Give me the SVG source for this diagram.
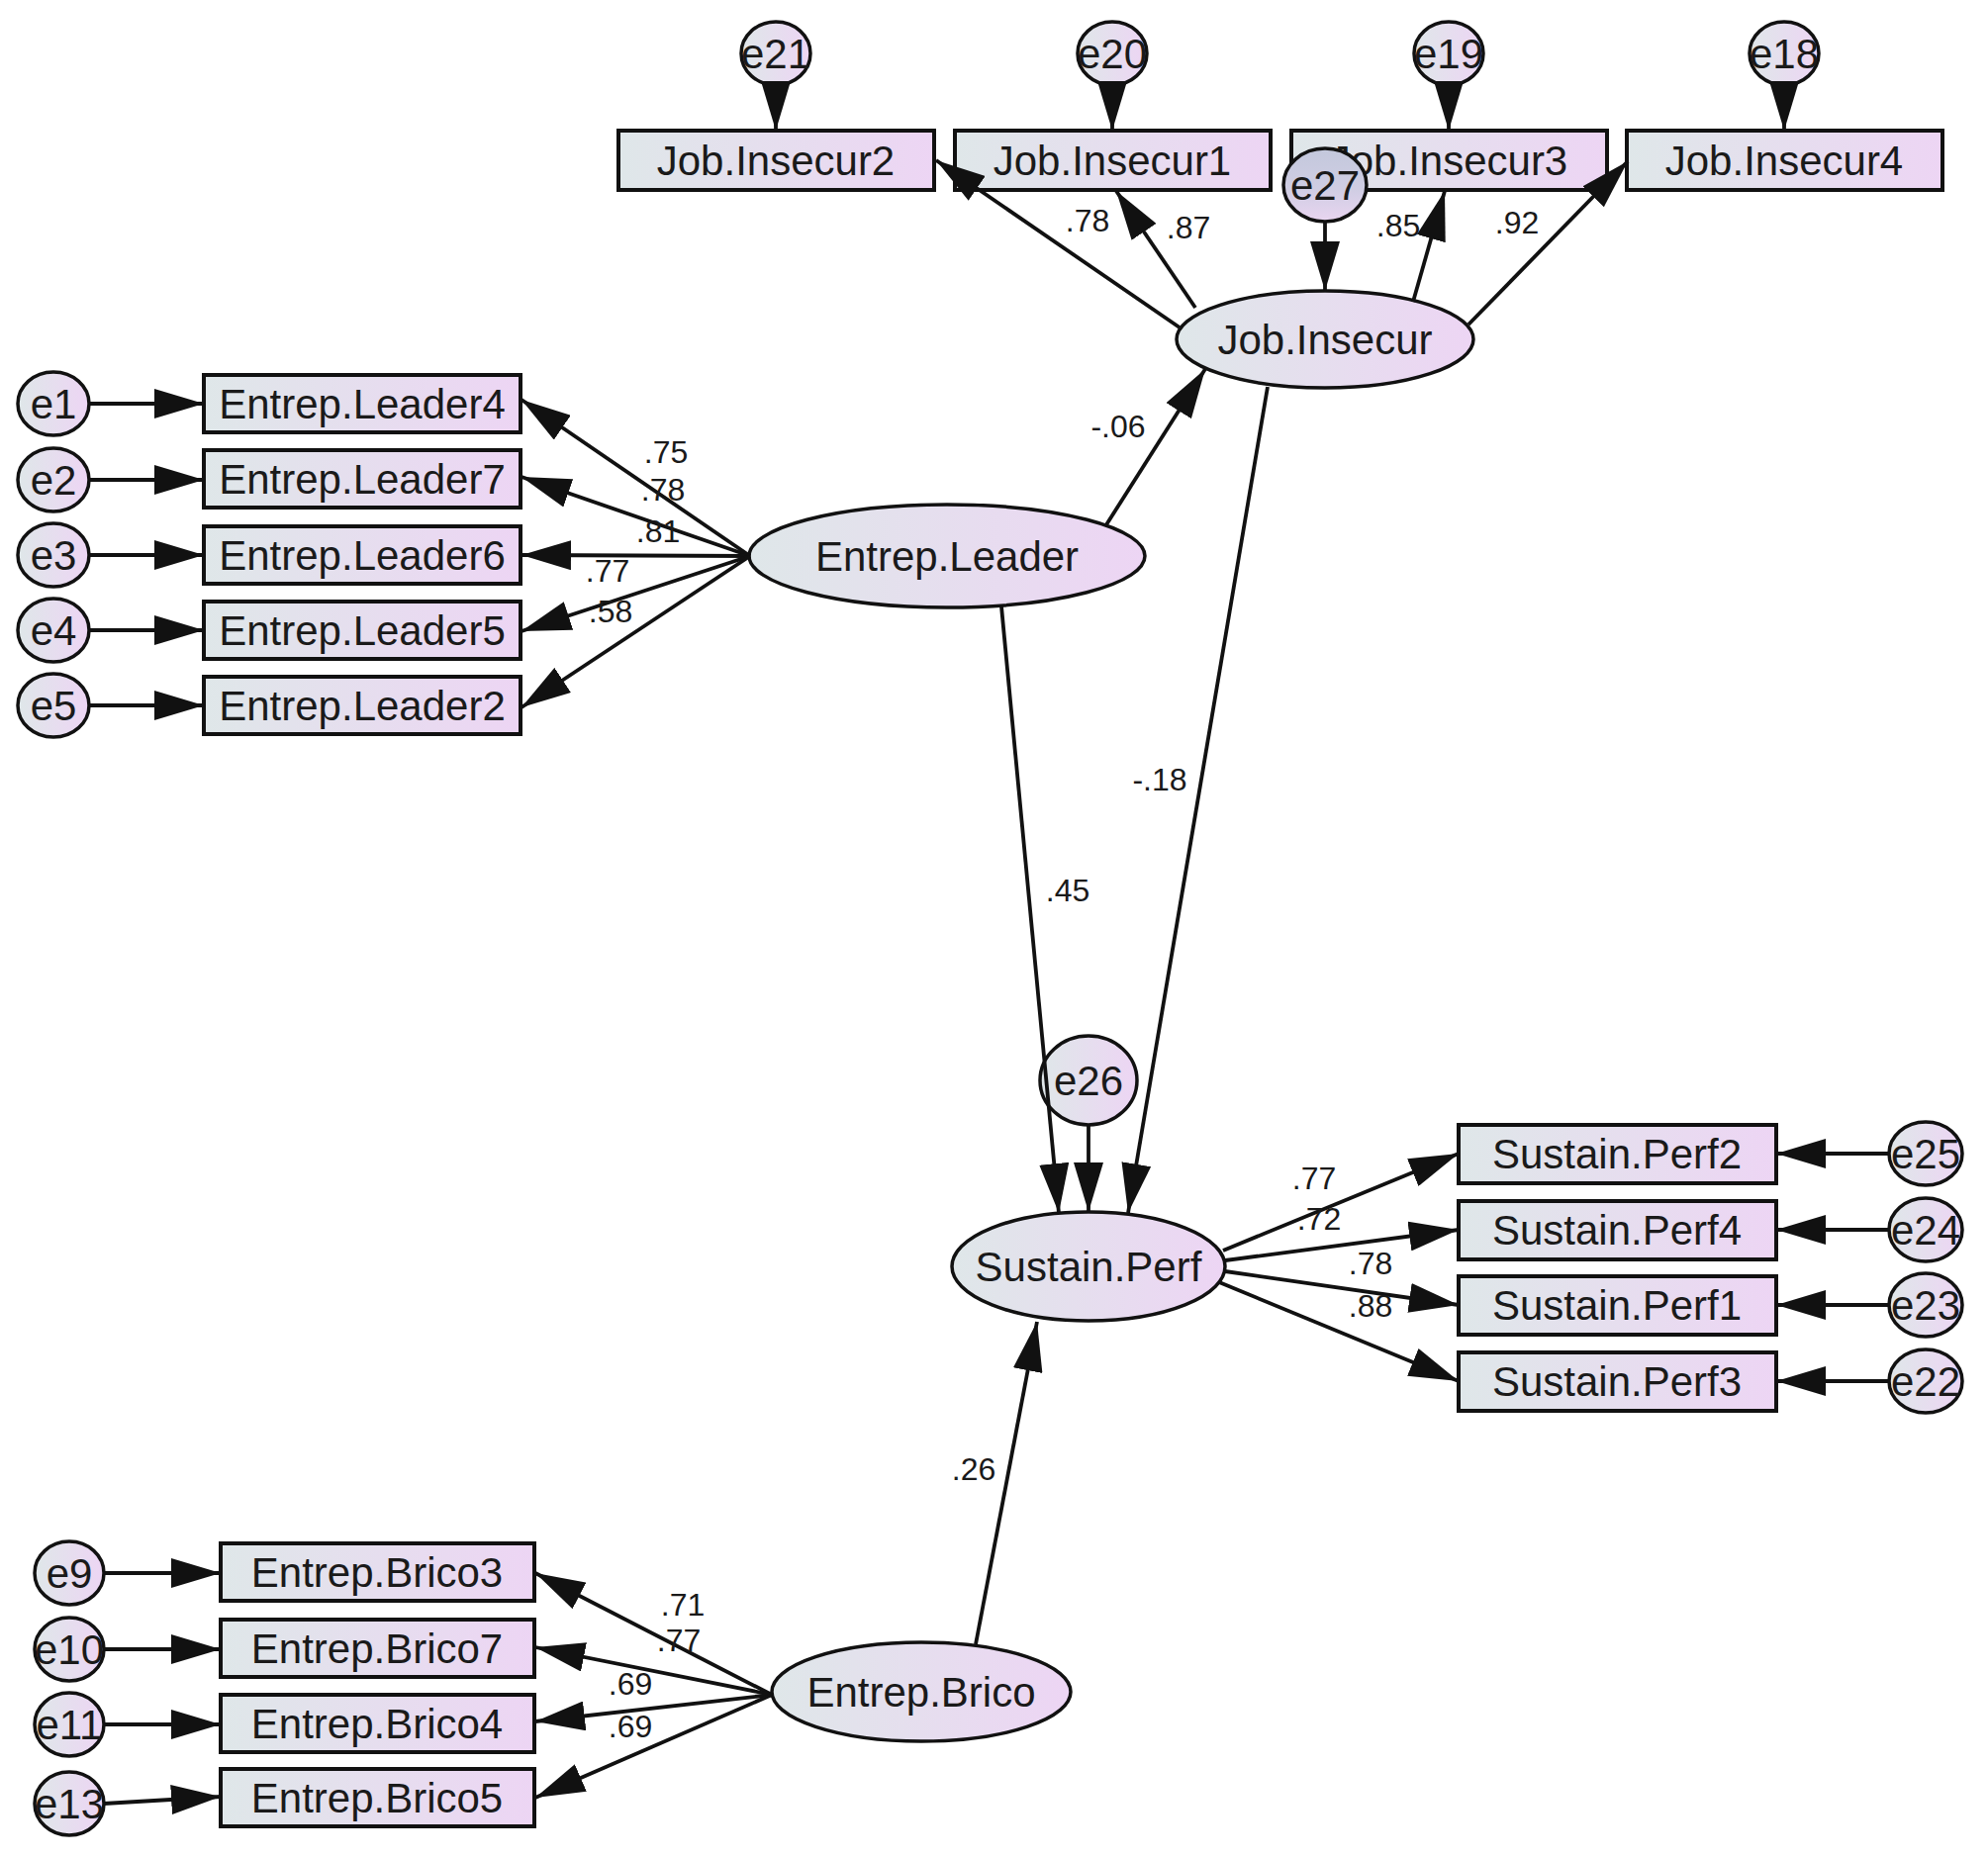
<svg xmlns="http://www.w3.org/2000/svg" width="2009" height="1878" viewBox="0 0 2009 1878">
<style>
.b{fill:url(#g);stroke:#111;stroke-width:4}
.o{fill:url(#g);stroke:#111;stroke-width:3.5}
.t{font-family:"Liberation Sans",Arial,sans-serif;font-size:42px;fill:#1a1a1a;text-anchor:middle}
.l{font-family:"Liberation Sans",Arial,sans-serif;font-size:32px;fill:#1a1a1a;text-anchor:middle}
.c line{stroke:#111;stroke-width:3.8;marker-end:url(#ah)}
</style>
<defs>
<linearGradient id="g" x1="0" y1="0" x2="1" y2="0"><stop offset="0" stop-color="#dfe7e9"/><stop offset="1" stop-color="#edd5f4"/></linearGradient>
<linearGradient id="g2" x1="0" y1="0" x2="0" y2="1"><stop offset="0" stop-color="#c3c8dc"/><stop offset="0.55" stop-color="#cfcde3"/><stop offset="1" stop-color="#e9d5f0"/></linearGradient>
<marker id="ah" markerUnits="userSpaceOnUse" markerWidth="50" markerHeight="30" refX="50" refY="15" orient="auto"><path d="M0,0 L50,15 L0,30 Z" fill="#111"/></marker>
</defs>

<!-- Top indicators -->
<g id="e21"><ellipse class="o" cx="784" cy="54" rx="35" ry="32"/><text class="t" x="784" y="69">e21</text></g>
<g id="e20"><ellipse class="o" cx="1124" cy="54" rx="35" ry="32"/><text class="t" x="1124" y="69">e20</text></g>
<g id="e19"><ellipse class="o" cx="1464" cy="54" rx="35" ry="32"/><text class="t" x="1464" y="69">e19</text></g>
<g id="e18"><ellipse class="o" cx="1803" cy="54" rx="35" ry="32"/><text class="t" x="1803" y="69">e18</text></g>
<g id="JI2"><rect class="b" x="625" y="132" width="319" height="60"/><text class="t" x="784" y="177">Job.Insecur2</text></g>
<g id="JI1"><rect class="b" x="965" y="132" width="319" height="60"/><text class="t" x="1124" y="177">Job.Insecur1</text></g>
<g id="JI3"><rect class="b" x="1305" y="132" width="319" height="60"/><text class="t" x="1464" y="177">Job.Insecur3</text></g>
<g id="JI4"><rect class="b" x="1644" y="132" width="319" height="60"/><text class="t" x="1803" y="177">Job.Insecur4</text></g>
<g id="e27"><ellipse cx="1339" cy="187" rx="42" ry="37" fill="url(#g2)" stroke="#111" stroke-width="3.5"/><text class="t" x="1339" y="202">e27</text></g>
<g id="JobInsecur"><ellipse class="o" cx="1339" cy="343" rx="150" ry="49"/><text class="t" x="1339" y="358">Job.Insecur</text></g>

<!-- Entrep.Leader -->
<g id="e1"><ellipse class="o" cx="54" cy="408" rx="36" ry="32"/><text class="t" x="54" y="423">e1</text></g>
<g id="e2"><ellipse class="o" cx="54" cy="485" rx="36" ry="32"/><text class="t" x="54" y="500">e2</text></g>
<g id="e3"><ellipse class="o" cx="54" cy="561" rx="36" ry="32"/><text class="t" x="54" y="576">e3</text></g>
<g id="e4"><ellipse class="o" cx="54" cy="637" rx="36" ry="32"/><text class="t" x="54" y="652">e4</text></g>
<g id="e5"><ellipse class="o" cx="54" cy="713" rx="36" ry="32"/><text class="t" x="54" y="728">e5</text></g>
<g id="EL4"><rect class="b" x="206" y="379" width="320" height="58"/><text class="t" x="366" y="423">Entrep.Leader4</text></g>
<g id="EL7"><rect class="b" x="206" y="455" width="320" height="58"/><text class="t" x="366" y="499">Entrep.Leader7</text></g>
<g id="EL6"><rect class="b" x="206" y="532" width="320" height="58"/><text class="t" x="366" y="576">Entrep.Leader6</text></g>
<g id="EL5"><rect class="b" x="206" y="608" width="320" height="58"/><text class="t" x="366" y="652">Entrep.Leader5</text></g>
<g id="EL2"><rect class="b" x="206" y="684" width="320" height="58"/><text class="t" x="366" y="728">Entrep.Leader2</text></g>
<g id="EntrepLeader"><ellipse class="o" cx="957" cy="562" rx="200" ry="52"/><text class="t" x="957" y="577">Entrep.Leader</text></g>

<!-- Sustain.Perf -->
<g id="e26"><ellipse class="o" cx="1100" cy="1092" rx="49" ry="45"/><text class="t" x="1100" y="1107">e26</text></g>
<g id="SustainPerf"><ellipse class="o" cx="1100" cy="1280" rx="138" ry="55"/><text class="t" x="1100" y="1295">Sustain.Perf</text></g>
<g id="SP2"><rect class="b" x="1474" y="1137" width="321" height="59"/><text class="t" x="1634" y="1181">Sustain.Perf2</text></g>
<g id="SP4"><rect class="b" x="1474" y="1214" width="321" height="59"/><text class="t" x="1634" y="1258">Sustain.Perf4</text></g>
<g id="SP1"><rect class="b" x="1474" y="1290" width="321" height="59"/><text class="t" x="1634" y="1334">Sustain.Perf1</text></g>
<g id="SP3"><rect class="b" x="1474" y="1367" width="321" height="59"/><text class="t" x="1634" y="1411">Sustain.Perf3</text></g>
<g id="e25"><ellipse class="o" cx="1946" cy="1166" rx="37" ry="32"/><text class="t" x="1946" y="1181">e25</text></g>
<g id="e24"><ellipse class="o" cx="1946" cy="1243" rx="37" ry="32"/><text class="t" x="1946" y="1258">e24</text></g>
<g id="e23"><ellipse class="o" cx="1946" cy="1319" rx="37" ry="32"/><text class="t" x="1946" y="1334">e23</text></g>
<g id="e22"><ellipse class="o" cx="1946" cy="1396" rx="37" ry="32"/><text class="t" x="1946" y="1411">e22</text></g>

<!-- Entrep.Brico -->
<g id="e9"><ellipse class="o" cx="70" cy="1590" rx="35" ry="32"/><text class="t" x="70" y="1605">e9</text></g>
<g id="e10"><ellipse class="o" cx="70" cy="1667" rx="35" ry="32"/><text class="t" x="70" y="1682">e10</text></g>
<g id="e11"><ellipse class="o" cx="70" cy="1743" rx="35" ry="32"/><text class="t" x="70" y="1758">e11</text></g>
<g id="e13"><ellipse class="o" cx="70" cy="1823" rx="35" ry="32"/><text class="t" x="70" y="1838">e13</text></g>
<g id="EB3"><rect class="b" x="223" y="1560" width="317" height="58"/><text class="t" x="381" y="1604">Entrep.Brico3</text></g>
<g id="EB7"><rect class="b" x="223" y="1637" width="317" height="58"/><text class="t" x="381" y="1681">Entrep.Brico7</text></g>
<g id="EB4"><rect class="b" x="223" y="1713" width="317" height="58"/><text class="t" x="381" y="1757">Entrep.Brico4</text></g>
<g id="EB5"><rect class="b" x="223" y="1788" width="317" height="58"/><text class="t" x="381" y="1832">Entrep.Brico5</text></g>
<g id="EntrepBrico"><ellipse class="o" cx="931" cy="1710" rx="151" ry="50"/><text class="t" x="931" y="1725">Entrep.Brico</text></g>

<!-- Connectors -->
<g id="connectors" class="c">
<line x1="784" y1="86" x2="784" y2="132"/>
<line x1="1124" y1="86" x2="1124" y2="132"/>
<line x1="1464" y1="86" x2="1464" y2="132"/>
<line x1="1803" y1="86" x2="1803" y2="132"/>
<line x1="1192" y1="331" x2="946" y2="162"/>
<line x1="1208" y1="311" x2="1128" y2="193"/>
<line x1="1428" y1="305" x2="1460" y2="193"/>
<line x1="1484" y1="328" x2="1645" y2="163"/>
<line x1="1339" y1="224" x2="1339" y2="294"/>

<line x1="90" y1="408" x2="206" y2="408"/>
<line x1="90" y1="485" x2="206" y2="485"/>
<line x1="90" y1="561" x2="206" y2="561"/>
<line x1="90" y1="637" x2="206" y2="637"/>
<line x1="90" y1="713" x2="206" y2="713"/>
<line x1="758" y1="562" x2="527" y2="404"/>
<line x1="758" y1="562" x2="527" y2="482"/>
<line x1="758" y1="562" x2="527" y2="561"/>
<line x1="758" y1="562" x2="527" y2="638"/>
<line x1="758" y1="562" x2="527" y2="715"/>

<line x1="1117" y1="532" x2="1218" y2="373"/>
<line x1="1012" y1="613" x2="1070" y2="1226"/>
<line x1="1281" y1="391" x2="1140" y2="1226"/>
<line x1="1100" y1="1137" x2="1100" y2="1225"/>
<line x1="986" y1="1662" x2="1048" y2="1336"/>

<line x1="1236" y1="1264" x2="1474" y2="1166"/>
<line x1="1238" y1="1274" x2="1474" y2="1243"/>
<line x1="1238" y1="1285" x2="1474" y2="1319"/>
<line x1="1232" y1="1296" x2="1474" y2="1396"/>
<line x1="1909" y1="1166" x2="1795" y2="1166"/>
<line x1="1909" y1="1243" x2="1795" y2="1243"/>
<line x1="1909" y1="1319" x2="1795" y2="1319"/>
<line x1="1909" y1="1396" x2="1795" y2="1396"/>

<line x1="105" y1="1590" x2="223" y2="1590"/>
<line x1="105" y1="1667" x2="223" y2="1667"/>
<line x1="105" y1="1743" x2="223" y2="1743"/>
<line x1="105" y1="1823" x2="223" y2="1816"/>
<line x1="780" y1="1713" x2="541" y2="1590"/>
<line x1="780" y1="1713" x2="541" y2="1665"/>
<line x1="780" y1="1713" x2="541" y2="1740"/>
<line x1="780" y1="1713" x2="541" y2="1817"/>
</g>

<!-- Path labels -->
<g id="labels">
<text class="l" x="1099" y="234">.78</text>
<text class="l" x="1201" y="241">.87</text>
<text class="l" x="1413" y="239">.85</text>
<text class="l" x="1533" y="236">.92</text>
<text class="l" x="673" y="468">.75</text>
<text class="l" x="670" y="506">.78</text>
<text class="l" x="665" y="548">.81</text>
<text class="l" x="614" y="588">.77</text>
<text class="l" x="617" y="629">.58</text>
<text class="l" x="1130" y="442">-.06</text>
<text class="l" x="1172" y="799">-.18</text>
<text class="l" x="1079" y="911">.45</text>
<text class="l" x="1328" y="1202">.77</text>
<text class="l" x="1333" y="1243">.72</text>
<text class="l" x="1385" y="1288">.78</text>
<text class="l" x="1385" y="1331">.88</text>
<text class="l" x="984" y="1496">.26</text>
<text class="l" x="690" y="1633">.71</text>
<text class="l" x="686" y="1669">.77</text>
<text class="l" x="637" y="1713">.69</text>
<text class="l" x="637" y="1756">.69</text>
</g>
</svg>
